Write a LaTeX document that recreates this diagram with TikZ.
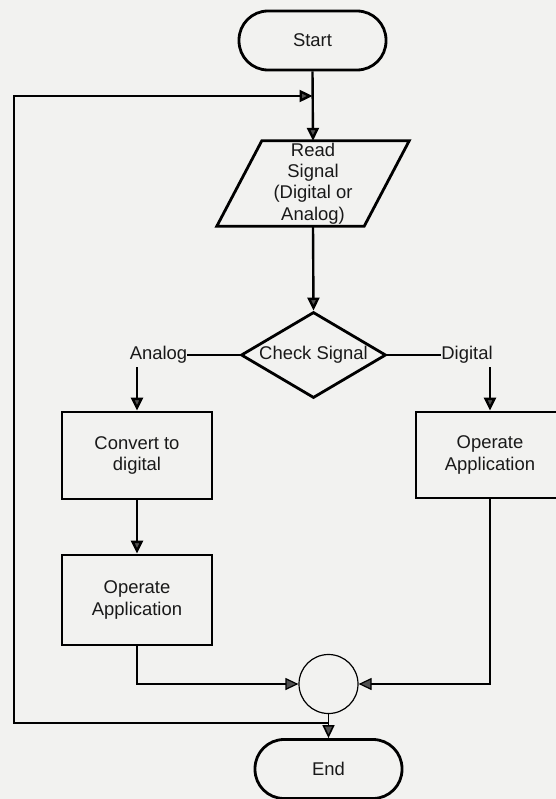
\documentclass[tikz,border=0pt]{standalone}
\usepackage{fontspec}
\setmainfont{Liberation Sans}
\usetikzlibrary{arrows.meta,shapes.geometric}
\definecolor{bg}{RGB}{242,242,240}
\definecolor{arrowgray}{RGB}{80,80,80}
\begin{document}
\begin{tikzpicture}[x=1bp,y=-1bp,
  every node/.style={font=\fontsize{18.5}{21.5}\selectfont, align=center, text=black!90},
  shp/.style={draw=black, line width=2.8bp},
  term/.style={shp, rectangle, rounded corners=29bp, minimum width=147bp, minimum height=59bp, inner sep=0},
  proc/.style={shp, rectangle, minimum width=150bp, inner sep=0},
  thickline/.style={line width=2.4bp},
  thinline/.style={line width=1.2bp},
  arr/.style={-{Triangle[length=13bp,width=12bp,fill=arrowgray]}},
]
\fill[bg] (0,0) rectangle (556,799);
\useasboundingbox (0,0) rectangle (556,799);

% nodes
\node[term] (start) at (312.5,40.5) {Start};
\node[minimum width=147bp, minimum height=85bp, inner sep=0] (read) at (313,183.5) {Read\\Signal\\(Digital or\\Analog)};
\draw[shp] ([xshift=22.5bp]read.north west) -- ([xshift=22.5bp]read.north east) -- ([xshift=-22.5bp]read.south east) -- ([xshift=-22.5bp]read.south west) -- cycle;
\node[shp, diamond, aspect=1.686, inner sep=0, minimum width=145bp, minimum height=86bp] (chk) at (313.5,355) {Check Signal};
\node[inner sep=0, anchor=base] (ana) at (158.5,359) {Analog};
\node[inner sep=0, anchor=base] (dig) at (467,359) {Digital};
\node[proc, minimum height=87bp] (conv) at (137,455.5) {Convert to\\digital};
\node[proc, minimum height=90bp] (op1) at (137,600) {Operate\\Application};
\node[proc, minimum width=148bp, minimum height=86bp] (op2) at (490,455) {Operate\\Application};
\node[draw, line width=1.2bp, circle, minimum size=59bp, inner sep=0] (circ) at (328.5,684) {};
\node[term] (end) at (328.5,769) {End};

% coordinates
\coordinate (jt) at (312.5,96);
\coordinate (jb) at (328.5,723);
\coordinate (lb) at (14,723);
\coordinate (lt) at (14,96);
\coordinate (a1) at (137,367);
\coordinate (d1) at (490,367);

% connectors
\draw[thickline,arr] (start.south) -- (read.north);
\draw[thickline,arr] (jb) -- (lb) -- (lt) -- (jt);
\draw[thickline,arr] (read.south) -- (chk.north);
\draw[thickline] (chk.west) -- (chk.west -| ana.east);
\draw[thickline] (chk.east) -- (chk.east -| dig.west);
\draw[thickline,arr] (a1) -- (conv.north);
\draw[thickline,arr] (d1) -- (op2.north);
\draw[thickline,arr] (conv.south) -- (op1.north);
\draw[thinline,arr] (op1.south) |- (circ.west);
\draw[thinline,arr] (op2.south) |- (circ.east);
\draw[line width=1.6bp,arr] (circ.south) -- (end.north);
\end{tikzpicture}
\end{document}
